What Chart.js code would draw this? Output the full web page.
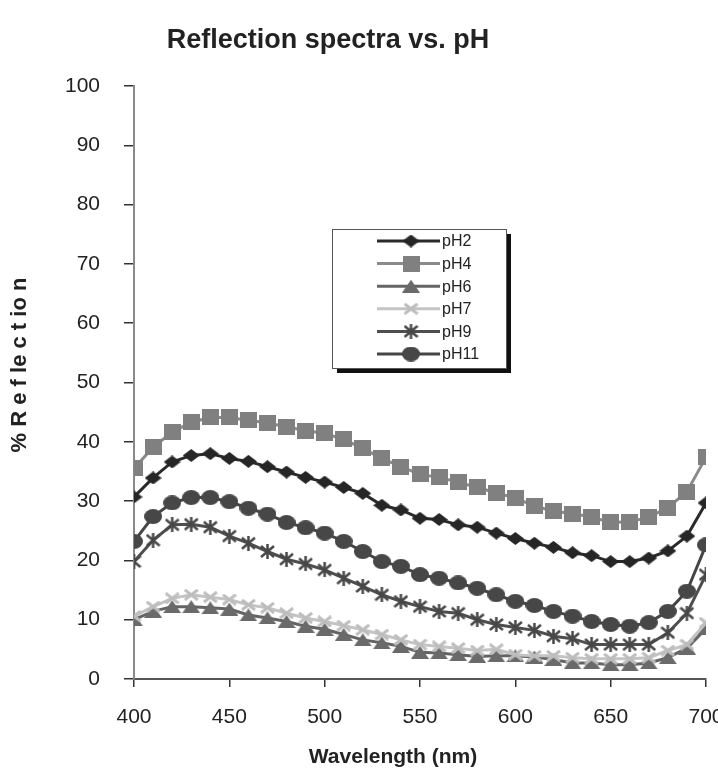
<!DOCTYPE html>
<html>
<head>
<meta charset="utf-8">
<script src="https://cdn.jsdelivr.net/npm/chart.js@4.4.1/dist/chart.umd.min.js"></script>
<style>
  body { margin: 0; background: #fff; }
  #wrap { width: 718px; height: 768px; position: relative; }
</style>
</head>
<body>
<div id="wrap"><canvas id="myChart"></canvas></div>
<script>
// wavelengths (nm)
var wavelengths = [400,410,420,430,440,450,460,470,480,490,500,510,520,530,540,550,
                   560,570,580,590,600,610,620,630,640,650,660,670,680,690,700];

// % reflection per pH
var pH2  = [30.7,33.9,36.6,37.7,38.0,37.2,36.7,35.8,34.9,34.0,33.2,32.3,31.3,29.3,28.5,27.1,
            26.9,26.0,25.6,24.6,23.7,22.9,22.2,21.3,20.8,19.8,19.8,20.4,21.6,24.1,29.7];
var pH4  = [35.5,39.1,41.6,43.3,44.1,44.1,43.6,43.2,42.5,41.9,41.4,40.4,38.9,37.2,35.8,34.5,
            34.0,33.2,32.3,31.4,30.5,29.2,28.3,27.9,27.3,26.4,26.5,27.3,28.9,31.6,37.4];
var pH6  = [10.0,11.4,12.2,12.2,12.0,11.8,10.8,10.3,9.7,8.9,8.4,7.5,6.6,6.1,5.5,4.5,
            4.4,4.1,3.8,3.9,3.9,3.7,3.3,2.7,2.7,2.4,2.4,2.7,3.6,5.2,8.5];
var pH7  = [10.6,12.2,13.6,14.2,13.8,13.4,12.5,12.0,11.1,10.3,9.7,9.0,8.3,7.5,6.6,5.8,
            5.5,5.2,4.8,5.0,4.1,3.9,3.9,3.6,3.4,3.4,3.4,3.6,4.8,5.8,9.5];
var pH9  = [19.8,23.4,26.0,26.1,25.6,24.1,22.9,21.5,20.2,19.4,18.4,17.0,15.6,14.2,13.1,12.2,
            11.4,11.1,10.0,9.2,8.7,8.2,7.2,6.8,5.8,5.8,5.8,5.8,7.8,11.1,17.6];
var pH11 = [23.2,27.4,29.7,30.6,30.6,29.9,28.8,27.8,26.4,25.5,24.6,23.2,21.5,19.8,19.0,17.6,
            17.0,16.2,15.3,14.2,13.1,12.4,11.4,10.6,9.7,9.2,8.9,9.5,11.4,14.8,22.6];

var seriesNames = ['pH2','pH4','pH6','pH7','pH9','pH11'];
var seriesData  = [pH2, pH4, pH6, pH7, pH9, pH11];
var xTicks = [400,450,500,550,600,650,700];
var yTicks = [0,10,20,30,40,50,60,70,80,90,100];

var FONT = '"Liberation Sans", Arial, sans-serif';

// small canvases used as point markers (excel-like, a bit squashed)
function marker(kind, w, h, color){
  var c = document.createElement('canvas');
  c.width = w; c.height = h;
  var g = c.getContext('2d');
  g.fillStyle = color; g.strokeStyle = color;
  if (kind == 'diamond'){
    g.beginPath(); g.moveTo(w/2,0); g.lineTo(w,h/2); g.lineTo(w/2,h); g.lineTo(0,h/2); g.closePath(); g.fill();
  } else if (kind == 'square'){
    g.fillRect(0,0,w,h);
  } else if (kind == 'triangle'){
    g.beginPath(); g.moveTo(w/2,0); g.lineTo(w,h); g.lineTo(0,h); g.closePath(); g.fill();
  } else if (kind == 'x'){
    g.lineWidth = 3; g.beginPath();
    g.moveTo(1,1); g.lineTo(w-1,h-1); g.moveTo(w-1,1); g.lineTo(1,h-1); g.stroke();
  } else if (kind == 'star'){
    g.lineWidth = 2.5; g.beginPath();
    g.moveTo(1,2); g.lineTo(w-1,h-2); g.moveTo(w-1,2); g.lineTo(1,h-2);
    g.moveTo(w/2,0); g.lineTo(w/2,h); g.stroke();
  } else {
    g.beginPath(); g.ellipse(w/2,h/2,w/2,h/2,0,0,Math.PI*2); g.fill();
  }
  return c;
}

var lineColors = ['#2a2a2a','#8a8a8a','#646464','#c4c4c4','#4e4e4e','#454545'];
var markers = [
  marker('diamond',17,13,'#262626'),
  marker('square',17,16,'#808080'),
  marker('triangle',18,13,'#6a6a6a'),
  marker('x',15,12,'#bdbdbd'),
  marker('star',15,15,'#474747'),
  marker('ellipse',18,15,'#474747')
];

var datasets = seriesNames.map(function(name, i){
  return {
    label: name,
    data: wavelengths.map(function(w, j){ return {x: w, y: seriesData[i][j]}; }),
    borderColor: lineColors[i],
    backgroundColor: lineColors[i],
    borderWidth: 3,
    pointStyle: markers[i],
    pointRadius: 8,
    tension: 0,
    order: 6 - i
  };
});

// titles + boxed legend with shadow
var extras = {
  id: 'extras',
  afterDatasetsDraw: function(chart){
    var ctx = chart.ctx;
    ctx.save();
    ctx.fillStyle = '#222';
    ctx.textAlign = 'center';
    ctx.textBaseline = 'middle';
    ctx.font = 'bold 27px ' + FONT;
    ctx.fillText('Reflection spectra vs. pH', 328, 41);

    ctx.font = 'bold 21px ' + FONT;
    ctx.fillText('Wavelength (nm)', 393, 757);

    ctx.save();
    ctx.translate(20, 365);
    ctx.rotate(-Math.PI / 2);
    ctx.font = 'bold 22px ' + FONT;
    ctx.fillText('% R e f le c t io n', 0, 0);
    ctx.restore();

    var bx = 332, by = 229, bw = 174, bh = 139;
    ctx.fillStyle = '#111';
    ctx.fillRect(bx + 5, by + 5, bw, bh);
    ctx.fillStyle = '#fff';
    ctx.fillRect(bx, by, bw, bh);
    ctx.strokeStyle = '#555';
    ctx.lineWidth = 1;
    ctx.strokeRect(bx + 0.5, by + 0.5, bw, bh);

    ctx.font = '16px ' + FONT;
    ctx.textAlign = 'left';
    for (var i = 0; i < seriesNames.length; i++){
      var y = 241 + i * 22.6;
      ctx.strokeStyle = lineColors[i];
      ctx.lineWidth = 3;
      ctx.beginPath(); ctx.moveTo(377, y); ctx.lineTo(440, y); ctx.stroke();
      var m = markers[i];
      ctx.drawImage(m, 411 - m.width/2, y - m.height/2);
      ctx.fillStyle = '#222';
      ctx.fillText(seriesNames[i], 442, y + 1);
    }
    ctx.restore();
  }
};

var config = {
  type: 'line',
  data: { datasets: datasets },
  options: {
    responsive: true,
    maintainAspectRatio: false,
    animation: false,
    layout: { padding: { top: 86, right: 12, bottom: 0, left: 0 } },
    plugins: { legend: { display: false }, tooltip: { enabled: false } },
    scales: {
      x: {
        type: 'linear',
        min: 400, max: 700,
        afterBuildTicks: function(s){ s.ticks = xTicks.map(function(v){ return {value: v}; }); },
        afterFit: function(s){ s.height = 89; s.paddingLeft = 0; s.paddingRight = 0; },
        ticks: { color: '#222', padding: 18, maxRotation: 0,
                 font: { size: 21, family: FONT } },
        grid: { drawOnChartArea: false, tickLength: 8, color: '#333', lineWidth: 1.5 },
        border: { color: '#555', width: 2 }
      },
      y: {
        min: 0, max: 100,
        afterBuildTicks: function(s){ s.ticks = yTicks.map(function(v){ return {value: v}; }); },
        afterFit: function(s){ s.width = 134; s.paddingTop = 0; s.paddingBottom = 0; },
        ticks: { color: '#222', padding: 24,
                 font: { size: 21, family: FONT } },
        grid: { drawOnChartArea: false, tickLength: 10, color: '#333', lineWidth: 1.5 },
        border: { color: '#8a8a8a', width: 2 }
      }
    }
  },
  plugins: [extras]
};

var myChart = new Chart(document.getElementById('myChart'), config);
</script>
</body>
</html>
